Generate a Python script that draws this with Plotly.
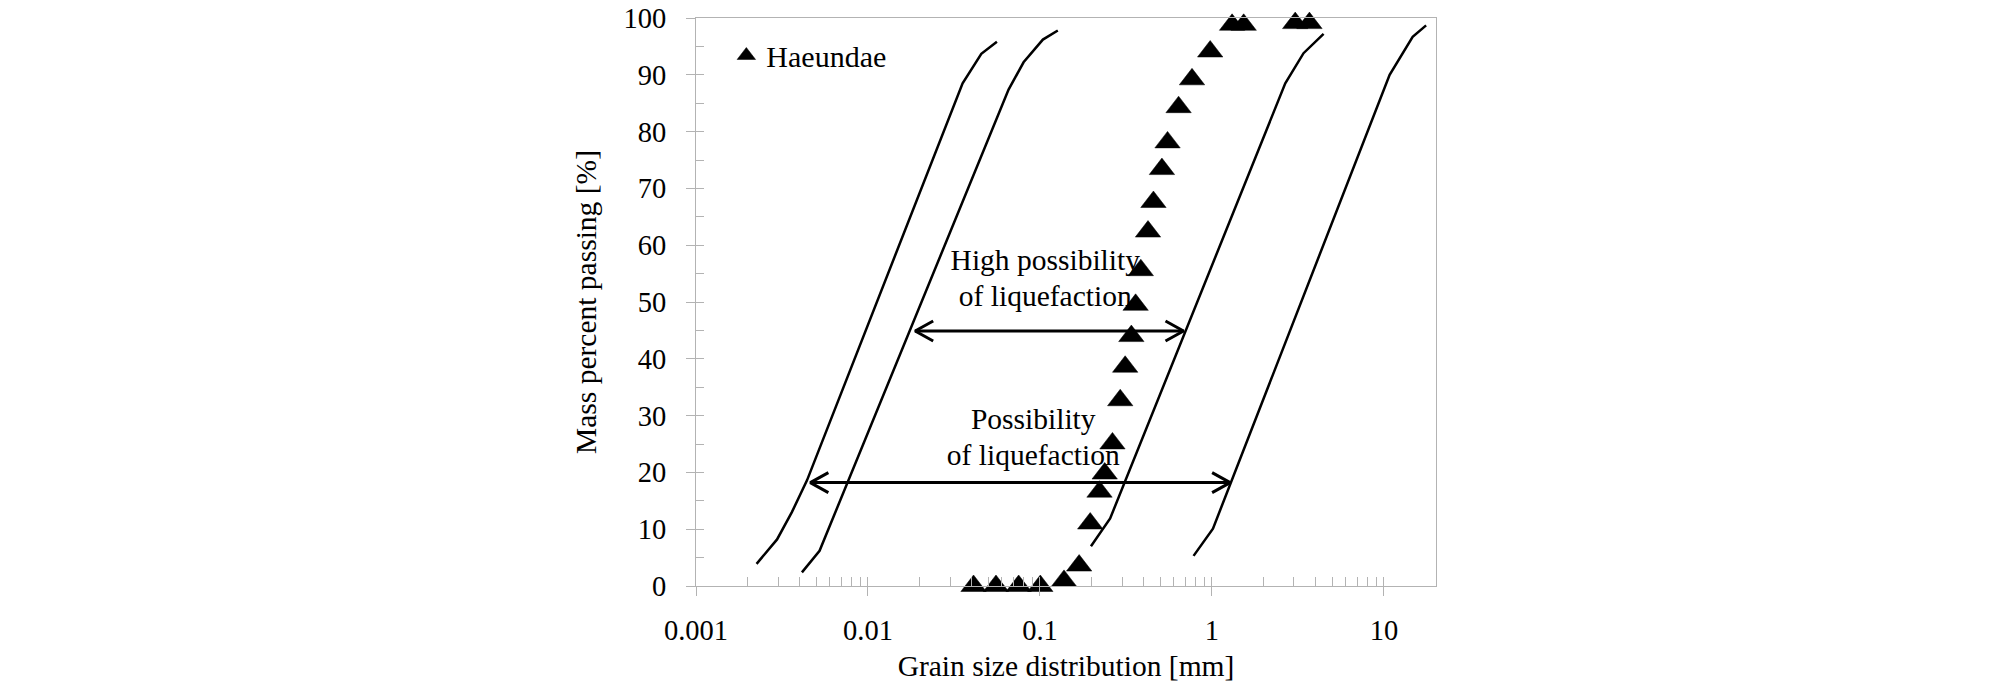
import plotly.graph_objects as go

# ---------------- data ----------------
haeundae_size = [0.0411, 0.0555, 0.0752, 0.1005, 0.138, 0.169, 0.196, 0.222, 0.238,
                 0.264, 0.293, 0.313, 0.340, 0.360, 0.386, 0.425, 0.457, 0.512,
                 0.552, 0.640, 0.766, 0.977, 1.31, 1.53, 3.05, 3.69]
haeundae_pass = [0, 0, 0, 0, 0.9, 3.6, 11.0, 16.6, 19.8, 25.1, 32.7, 38.6, 44.0,
                 49.5, 55.6, 62.4, 67.6, 73.4, 78.1, 84.3, 89.2, 94.1, 98.8, 98.8,
                 99.1, 99.1]

# boundary curves (possibility / high possibility of liquefaction)
bound_a_x = [0.00225, 0.00296, 0.00361, 0.00442, 0.0355, 0.0456, 0.0562]
bound_a_y = [3.9, 8.2, 13.0, 18.6, 88.5, 93.7, 95.8]
bound_b_x = [0.00413, 0.00523, 0.0657, 0.0803, 0.104, 0.127]
bound_b_y = [2.4, 6.2, 87.4, 92.2, 96.2, 97.8]
bound_c_x = [0.198, 0.256, 2.67, 3.41, 4.46]
bound_c_y = [7.0, 11.9, 88.5, 93.8, 97.2]
bound_d_x = [0.782, 1.014, 10.8, 14.7, 17.6]
bound_d_y = [5.3, 10.1, 90.0, 96.7, 98.7]

# double-headed range arrows
arrow_level = [44.9, 18.2]
arrow_left = [0.0188, 0.00462]
arrow_right = [0.684, 1.277]
arrow_label_lines = [["High possibility", "of liquefaction"],
                     ["Possibility", "of liquefaction"]]
label_x = [0.1074, 0.0914]
label_y = [53.8, 25.8]

x_ticks = [0.001, 0.01, 0.1, 1, 10]
x_tick_text = ["0.001", "0.01", "0.1", "1", "10"]
y_ticks = list(range(0, 101, 10))

# ---------------- style ----------------
FONT = "Liberation Serif"
FS_TICK = 28.5
FS_TEXT = 29.5
AXIS_GREY = "#b3b3b3"
HEAD_FACTOR = 10 ** 0.105   # arrow head length in log-space
HEAD_HALF = 1.76            # arrow head half-width in % units
LINE_STEP = 6.3             # spacing between label lines in % units

fig = go.Figure()

# text labels (drawn below the markers)
for lines, lx, ly in zip(arrow_label_lines, label_x, label_y):
    n = len(lines)
    ys = [ly + LINE_STEP * ((n - 1) / 2 - i) for i in range(n)]
    fig.add_trace(go.Scatter(x=[lx] * n, y=ys, mode="text", text=lines,
                             textposition="middle center",
                             textfont=dict(family=FONT, size=FS_TEXT, color="black"),
                             showlegend=False, hoverinfo="skip"))

# arrows
for yl, xl, xr in zip(arrow_level, arrow_left, arrow_right):
    ax = [xl * HEAD_FACTOR, xl, xl * HEAD_FACTOR, None, xl, xr, None,
          xr / HEAD_FACTOR, xr, xr / HEAD_FACTOR]
    ay = [yl + HEAD_HALF, yl, yl - HEAD_HALF, None, yl, yl, None,
          yl + HEAD_HALF, yl, yl - HEAD_HALF]
    fig.add_trace(go.Scatter(x=ax, y=ay, mode="lines",
                             line=dict(color="black", width=3),
                             showlegend=False, hoverinfo="skip"))

# measured data
fig.add_trace(go.Scatter(x=haeundae_size, y=haeundae_pass, mode="markers",
                         name="Haeundae",
                         marker=dict(symbol="triangle-up", size=22, color="black",
                                     line=dict(width=0.5, color="black")),
                         cliponaxis=False))

# boundary curves (on the overlay axes that carry the inner tick marks)
for bx, by in [(bound_a_x, bound_a_y), (bound_b_x, bound_b_y),
               (bound_c_x, bound_c_y), (bound_d_x, bound_d_y)]:
    fig.add_trace(go.Scatter(x=bx, y=by, mode="lines", xaxis="x2", yaxis="y2",
                             line=dict(color="black", width=2.5),
                             showlegend=False, hoverinfo="skip"))

minor_x = [m * d for d in [0.001, 0.01, 0.1, 1, 10] for m in range(1, 10)
           if m * d <= 20]

fig.update_layout(
    width=2008, height=691, autosize=False,
    margin=dict(l=695.7, r=572.3, t=18.3, b=105.3, pad=0, autoexpand=False),
    plot_bgcolor="white", paper_bgcolor="white",
    font=dict(family=FONT, size=FS_TICK, color="black"),
    showlegend=True,
    legend=dict(x=0.041, y=0.934, xanchor="left", yanchor="middle",
                bgcolor="rgba(0,0,0,0)",
                font=dict(family=FONT, size=30, color="black")),
    xaxis=dict(type="log", range=[-3, 1.303], tickvals=x_ticks, ticktext=x_tick_text,
               ticks="outside", ticklen=9, tickcolor=AXIS_GREY, tickwidth=1,
               showline=True, linecolor=AXIS_GREY, linewidth=1.3, mirror=True,
               showgrid=False, zeroline=False, ticklabelstandoff=10, automargin=False,
               tickfont=dict(family=FONT, size=FS_TICK, color="black"),
               title=dict(text="Grain size distribution [mm]", standoff=10,
                          font=dict(family=FONT, size=FS_TEXT, color="black"))),
    yaxis=dict(range=[0, 100], tickvals=y_ticks, ticks="outside", ticklen=9,
               tickcolor=AXIS_GREY, tickwidth=1,
               showline=True, linecolor=AXIS_GREY, linewidth=1.3, mirror=True,
               showgrid=False, zeroline=False, ticklabelstandoff=14, automargin=False,
               tickfont=dict(family=FONT, size=FS_TICK, color="black"),
               title=dict(text="Mass percent passing [%]", standoff=18,
                          font=dict(family=FONT, size=FS_TEXT, color="black"))),
    xaxis2=dict(type="log", range=[-3, 1.303], overlaying="x", anchor="y2", side="bottom",
                tickvals=minor_x, ticks="inside", ticklen=9, tickcolor=AXIS_GREY,
                tickwidth=1, showticklabels=False, showline=False, showgrid=False,
                zeroline=False, automargin=False),
    yaxis2=dict(range=[0, 100], overlaying="y", anchor="x2", side="left",
                tickvals=list(range(0, 101, 5)), ticks="inside", ticklen=8,
                tickcolor=AXIS_GREY, tickwidth=1, showticklabels=False,
                showline=False, showgrid=False, zeroline=False, automargin=False),
)

fig.write_html("out.html")
